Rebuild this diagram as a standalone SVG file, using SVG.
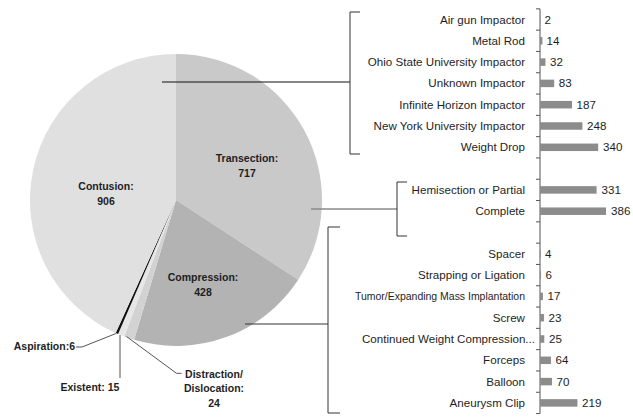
<svg xmlns="http://www.w3.org/2000/svg" width="633" height="419" viewBox="0 0 633 419">
<style>
.lbl{font-family:"Liberation Sans",Arial,sans-serif;font-size:11.6px;fill:#1e1e1e;text-anchor:end}
.val{font-family:"Liberation Sans",Arial,sans-serif;font-size:11.6px;fill:#1e1e1e}
.pl{font-family:"Liberation Sans",Arial,sans-serif;font-size:10.5px;font-weight:bold;fill:#1e1e1e;text-anchor:middle}
.bar{fill:#8c8c8c}
.ax{stroke:#555;stroke-width:1;fill:none}
.br{stroke:#333;stroke-width:1;fill:none}
.ld{stroke:#555;stroke-width:1;fill:none}
</style>
<rect width="633" height="419" fill="#fff"/>
<g id="pie">
<path id="transection" d="M176,200 L176,54 A146,146 0 0 1 298.27,279.79 Z" fill="#c9c9c9"/>
<path id="compression" d="M176,200 L298.27,279.79 A146,146 0 0 1 134.14,339.87 Z" fill="#b3b3b3"/>
<path id="distraction" d="M176,200 L134.14,339.87 A146,146 0 0 1 124.20,336.50 Z" fill="#d2d2d2"/>
<path id="existent" d="M176,200 L124.20,336.50 A146,146 0 0 1 118.11,334.03 Z" fill="#e6e6e6"/>
<path id="aspiration" d="M176,200 L118.11,334.03 A146,146 0 0 1 115.72,332.98 Z" fill="#111"/>
<path id="contusion" d="M176,200 L115.72,332.98 A146,146 0 0 1 176,54 Z" fill="#e0e0e0"/>
<text class="pl" x="247" y="161.5">Transection:</text>
<text class="pl" x="247" y="176.5">717</text>
<text class="pl" x="106" y="189.5">Contusion:</text>
<text class="pl" x="106" y="205">906</text>
<text class="pl" x="203" y="280.5">Compression:</text>
<text class="pl" x="203" y="295.5">428</text>
<text class="pl" x="75" y="350" style="text-anchor:end">Aspiration:6</text>
<text class="pl" x="90" y="390.5">Existent: 15</text>
<text class="pl" x="214" y="378">Distraction/</text>
<text class="pl" x="214" y="392">Dislocation:</text>
<text class="pl" x="214" y="406.5">24</text>
</g>
<g id="connectors">
<polyline class="ld" points="76,347 82,347 116,333.5"/>
<line class="ld" x1="120" y1="335" x2="120" y2="378"/>
<polyline class="ld" points="126.5,336.5 176.5,373.3 181.5,373.3"/>
<line x1="162" y1="82" x2="350" y2="82" stroke="#111" stroke-width="1"/>
<line x1="311" y1="209" x2="397" y2="209" stroke="#8a8a8a" stroke-width="1.5"/>
<line x1="245" y1="324" x2="328" y2="324" stroke="#333" stroke-width="1"/>
<path class="br" d="M360,12 H350 V154 H360"/>
<path class="br" d="M407,182 H397 V236 H407"/>
<path class="br" d="M340,227 H328 V413 H340"/>
</g>
<g id="bars">
<path class="ax" d="M540,8.85 V413.55 M536,8.85 H540 M536,30.15 H540 M536,51.45 H540 M536,72.75 H540 M536,94.05 H540 M536,115.35 H540 M536,136.65 H540 M536,157.95 H540 M536,179.25 H540 M536,200.55 H540 M536,221.85 H540 M536,243.15 H540 M536,264.45 H540 M536,285.75 H540 M536,307.05 H540 M536,328.35 H540 M536,349.65 H540 M536,370.95 H540 M536,392.25 H540 M536,413.55 H540"/>
<g id="r0"><text class="lbl" x="525" y="23.5">Air gun Impactor</text><rect class="bar" x="540" y="15.75" width="0.4" height="7.5"/><text class="val" x="544.5" y="23.5">2</text></g>
<g id="r1"><text class="lbl" x="525" y="44.8">Metal Rod</text><rect class="bar" x="540" y="37.05" width="2.39" height="7.5"/><text class="val" x="546.5" y="44.8">14</text></g>
<g id="r2"><text class="lbl" x="525" y="66.1">Ohio State University Impactor</text><rect class="bar" x="540" y="58.35" width="5.47" height="7.5"/><text class="val" x="550" y="66.1">32</text></g>
<g id="r3"><text class="lbl" x="525" y="87.4">Unknown Impactor</text><rect class="bar" x="540" y="79.65" width="14.19" height="7.5"/><text class="val" x="558.7" y="87.4">83</text></g>
<g id="r4"><text class="lbl" x="525" y="108.7">Infinite Horizon Impactor</text><rect class="bar" x="540" y="100.95" width="31.98" height="7.5"/><text class="val" x="576.5" y="108.7">187</text></g>
<g id="r5"><text class="lbl" x="525" y="130">New York University Impactor</text><rect class="bar" x="540" y="122.25" width="42.41" height="7.5"/><text class="val" x="587" y="130">248</text></g>
<g id="r6"><text class="lbl" x="525" y="151.3">Weight Drop</text><rect class="bar" x="540" y="143.55" width="58.14" height="7.5"/><text class="val" x="603" y="151.3">340</text></g>
<g id="r8"><text class="lbl" x="525" y="193.9">Hemisection or Partial</text><rect class="bar" x="540" y="186.15" width="56.6" height="7.5"/><text class="val" x="601.5" y="193.9">331</text></g>
<g id="r9"><text class="lbl" x="525" y="215.2">Complete</text><rect class="bar" x="540" y="207.45" width="66" height="7.5"/><text class="val" x="611" y="215.2">386</text></g>
<g id="r11"><text class="lbl" x="525" y="257.8">Spacer</text><rect class="bar" x="540" y="250.05" width="0.68" height="7.5"/><text class="val" x="545" y="257.8">4</text></g>
<g id="r12"><text class="lbl" x="525" y="279.1">Strapping or Ligation</text><rect class="bar" x="540" y="271.35" width="1.03" height="7.5"/><text class="val" x="545.5" y="279.1">6</text></g>
<g id="r13"><text class="lbl" x="525" y="300.4" textLength="170" lengthAdjust="spacingAndGlyphs">Tumor/Expanding Mass Implantation</text><rect class="bar" x="540" y="292.65" width="2.91" height="7.5"/><text class="val" x="547.5" y="300.4">17</text></g>
<g id="r14"><text class="lbl" x="525" y="321.7">Screw</text><rect class="bar" x="540" y="313.95" width="3.93" height="7.5"/><text class="val" x="548.5" y="321.7">23</text></g>
<g id="r15"><text class="lbl" x="535" y="343" textLength="173" lengthAdjust="spacingAndGlyphs">Continued Weight Compression...</text><rect class="bar" x="540" y="335.25" width="4.28" height="7.5"/><text class="val" x="549" y="343">25</text></g>
<g id="r16"><text class="lbl" x="525" y="364.3">Forceps</text><rect class="bar" x="540" y="356.55" width="10.94" height="7.5"/><text class="val" x="555.5" y="364.3">64</text></g>
<g id="r17"><text class="lbl" x="525" y="385.6">Balloon</text><rect class="bar" x="540" y="377.85" width="11.97" height="7.5"/><text class="val" x="556.5" y="385.6">70</text></g>
<g id="r18"><text class="lbl" x="525" y="406.9">Aneurysm Clip</text><rect class="bar" x="540" y="399.15" width="37.45" height="7.5"/><text class="val" x="582" y="406.9">219</text></g>
</g>
</svg>
